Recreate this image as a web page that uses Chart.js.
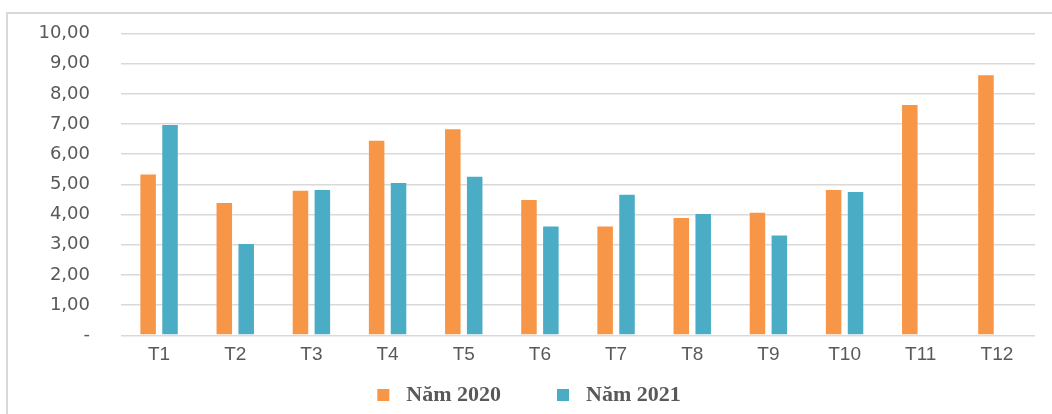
<!DOCTYPE html>
<html>
<head>
<meta charset="utf-8">
<script src="https://cdn.jsdelivr.net/npm/chart.js@4/dist/chart.umd.min.js"></script>
<style>
  html, body { margin: 0; padding: 0; background: #ffffff; width: 1052px; height: 414px; overflow: hidden; position: relative; }
  #frame { position: absolute; left: 6px; top: 12px; width: 1100px; height: 500px; border: 2px solid #d9d9d9; box-sizing: border-box; }
  #wrap { position: absolute; left: -40px; top: 0; width: 1092px; height: 416px; }
</style>
</head>
<body>
<div id="frame"></div>
<div id="wrap"><canvas id="c" width="1092" height="416"></canvas></div>
<script>
const categories = ['T1', 'T2', 'T3', 'T4', 'T5', 'T6', 'T7', 'T8', 'T9', 'T10', 'T11', 'T12'];
const seriesNames = ['Năm 2020', 'Năm 2021'];
const values2020 = [5.36, 4.42, 4.82, 6.48, 6.86, 4.52, 3.64, 3.92, 4.09, 4.85, 7.66, 8.65];
const values2021 = [7.00, 3.06, 4.85, 5.08, 5.29, 3.64, 4.69, 4.05, 3.34, 4.78, null, null];
const yMin = 0, yMax = 10, yStep = 1;

const textColor = '#595959';
const colors = ['#F79646', '#4BACC6'];

// legend marker: square with blank space before and after it
function makeMarker(color) {
  const cv = document.createElement('canvas');
  cv.width = 54; cv.height = 12;
  const g = cv.getContext('2d');
  g.fillStyle = color;
  g.fillRect(36, 0, 12, 12);
  return cv;
}
const markers = colors.map(makeMarker);

new Chart(document.getElementById('c'), {
  type: 'bar',
  data: {
    labels: categories,
    datasets: [
      { label: seriesNames[0], data: values2020, backgroundColor: colors[0], borderColor: 'rgba(255,255,255,0.25)', borderWidth: 1,
        categoryPercentage: 0.575, barPercentage: 0.8 },
      { label: seriesNames[1], data: values2021, backgroundColor: colors[1], borderColor: 'rgba(255,255,255,0.25)', borderWidth: 1,
        categoryPercentage: 0.575, barPercentage: 0.8 }
    ]
  },
  options: {
    responsive: false,
    animation: false,
    layout: { padding: { top: 33.5, left: 27, right: 17, bottom: 0 } },
    plugins: {
      tooltip: { enabled: false },
      legend: {
        position: 'bottom',
        labels: {
          usePointStyle: true,
          pointStyleWidth: 54,
          boxHeight: 12,
          padding: 20,
          color: textColor,
          font: { family: "'Liberation Serif', serif", weight: 'bold', size: 22 },
          generateLabels: (chart) => {
            const items = Chart.defaults.plugins.legend.labels.generateLabels(chart);
            items.forEach((it, i) => { it.pointStyle = markers[i]; });
            return items;
          }
        }
      }
    },
    scales: {
      x: {
        grid: { display: false, drawTicks: false },
        border: { display: false },
        ticks: {
          color: textColor,
          padding: 8.3,
          font: { family: "'Liberation Sans', Arial, sans-serif", size: 19 }
        },
        afterFit: (s) => { s.height = 28.7; }
      },
      y: {
        min: yMin,
        max: yMax,
        border: { display: false },
        grid: { color: '#d9d9d9', lineWidth: 1.5, drawTicks: true, tickLength: 28, tickColor: 'rgba(0,0,0,0)' },
        ticks: {
          stepSize: yStep,
          color: textColor,
          padding: 3,
          font: { family: "'DejaVu Sans', sans-serif", size: 18 },
          callback: (v) => v === 0 ? '-' : v.toFixed(2).replace('.', ',')
        },
        afterFit: (s) => { s.width = 134; }
      }
    }
  }
});
</script>
</body>
</html>
